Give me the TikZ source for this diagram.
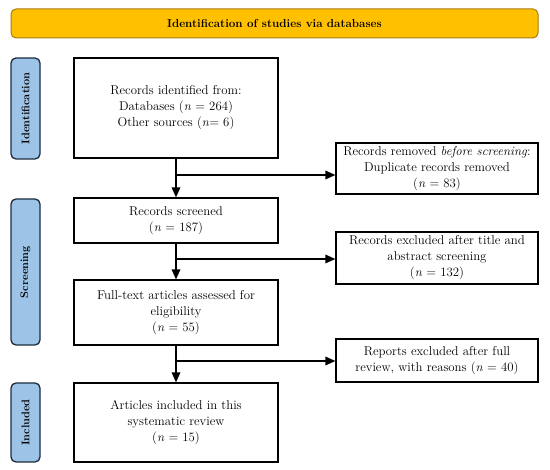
\documentclass[tikz,border=0pt]{standalone}
\definecolor{bannerfill}{HTML}{FFC000}
\definecolor{bannerline}{HTML}{A87C12}
\definecolor{phasefill}{HTML}{9DC3E6}
\definecolor{phaseline}{HTML}{1C2B3F}
\begin{document}
\begin{tikzpicture}[
x=1pt,y=-1pt,
font=\fontsize{12.8}{16}\selectfont,
stage/.style={
rectangle,
draw=black,
line width=1.3pt,
align=center,
inner sep=2pt
},
phase/.style={
rectangle,
rounded corners=5pt,
draw=phaseline,
fill=phasefill,
line width=1.3pt,
rotate=90,
minimum height=29pt,
font=\fontsize{11}{13}\selectfont\bfseries
}
]

\useasboundingbox (0,0) rectangle (550,470);

% Banner
\node[rectangle, rounded corners=5pt, draw=bannerline, fill=bannerfill,
line width=1pt, minimum width=527pt, minimum height=29pt,
font=\fontsize{11.6}{13}\selectfont\bfseries] (banner) at (274.5,23.5)
{Identification of studies via databases};

% Phase bars
\node[phase, minimum width=101pt] (pident) at (25.5,108.5) {Identification};
\node[phase, minimum width=146pt] (pscreen) at (25.5,272) {Screening};
\node[phase, minimum width=79pt] (pincl) at (25.5,422.5) {Included};

% Main column
\node[stage, minimum width=204pt, minimum height=100pt] (identified) at (176,108)
{Records identified from:\\ Databases (\textit{n} = 264)\\ Other sources (\textit{n}= 6)};

\node[stage, minimum width=204pt, minimum height=45pt] (screened) at (176,220.5)
{Records screened\\ (\textit{n} = 187)};

\node[stage, minimum width=204pt, minimum height=65pt] (fulltext) at (176,312.5)
{Full-text articles assessed for\\ eligibility\\ (\textit{n} = 55)};

\node[stage, minimum width=204pt, minimum height=79pt] (included) at (176,422.5)
{Articles included in this\\ systematic review\\ (\textit{n} = 15)};

% Right column
\node[stage, minimum width=202pt, minimum height=51pt] (removed) at (437,168.5)
{Records removed \textit{before screening}:\\ Duplicate records removed\\ (\textit{n} = 83)};

\node[stage, minimum width=202pt, minimum height=52pt] (excluded) at (437,258)
{Records excluded after title and\\ abstract screening\\ (\textit{n} = 132)};

\node[stage, minimum width=202pt, minimum height=43pt] (reports) at (437,360.5)
{Reports excluded after full\\ review, with reasons (\textit{n} = 40)};

% Branch points
\coordinate (b1) at (176,175);
\coordinate (b2) at (176,259);
\coordinate (b3) at (176,361);

% Arrow shafts
\draw[line width=1.3pt, shorten >=4pt] (identified.south) -- (screened.north);
\draw[line width=1.3pt, shorten >=4pt] (screened.south) -- (fulltext.north);
\draw[line width=1.3pt, shorten >=4pt] (fulltext.south) -- (included.north);
\draw[line width=1.3pt, shorten >=4pt] (b1) -- (b1 -| removed.west);
\draw[line width=1.3pt, shorten >=4pt] (b2) -- (b2 -| excluded.west);
\draw[line width=1.3pt, shorten >=4pt] (b3) -- (b3 -| reports.west);

% Arrowheads
\fill (screened.north) -- ++(-4.5,-10) -- ++(9,0) -- cycle;
\fill (fulltext.north) -- ++(-4.5,-10) -- ++(9,0) -- cycle;
\fill (included.north) -- ++(-4.5,-10) -- ++(9,0) -- cycle;
\fill (b1 -| removed.west) -- ++(-10,-4.5) -- ++(0,9) -- cycle;
\fill (b2 -| excluded.west) -- ++(-10,-4.5) -- ++(0,9) -- cycle;
\fill (b3 -| reports.west) -- ++(-10,-4.5) -- ++(0,9) -- cycle;

\end{tikzpicture}
\end{document}
